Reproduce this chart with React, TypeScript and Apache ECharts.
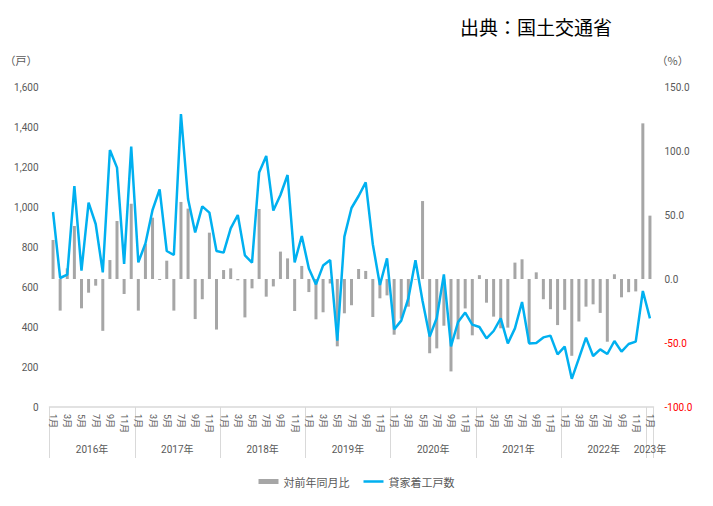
import { useEffect, useRef } from 'react';
import * as echarts from 'echarts';

// 2016年1月〜2023年1月（月次）
const years = [2016, 2017, 2018, 2019, 2020, 2021, 2022, 2023];
const months: string[] = [];
years.forEach((y) => {
  const last = y === 2023 ? 1 : 12;
  for (let m = 1; m <= last; m++) months.push(`${y}-${m}`);
});

// 貸家着工戸数（戸）
const starts = [
  975, 645, 662, 1104, 682, 1022, 915, 673, 1285, 1197, 715, 1302,
  723, 818, 985, 1088, 780, 760, 1465, 1040, 873, 1003, 972, 780,
  772, 893, 960, 758, 722, 1172, 1255, 982, 1060, 1160, 723, 855,
  693, 613, 707, 735, 332, 852, 995, 1055, 1123, 814, 610, 743,
  388, 432, 543, 734, 530, 352, 445, 663, 303, 425, 472, 412,
  400, 343, 380, 443, 318, 393, 525, 318, 320, 348, 357, 263,
  302, 141, 243, 347, 255, 288, 265, 330, 277, 315, 327, 580,
  443,
];

// 対前年同月比（%）
const yoy = [
  30.5, -24.7, 8.3, 41.4, -22.9, -10.7, -5.2, -40.5, 14.8, 45.3, -11.7, 58.8,
  -24.7, 27.3, 47.9, -0.8, 14.3, -24.7, 60.2, 55, -31.3, -15.8, 36.2, -39.5,
  7, 8.3, -1, -30, -7.3, 54.7, -13.8, -5.8, 21.4, 16.1, -25, 10.2,
  -10.2, -31.5, -26, -3.5, -52.6, -26.8, -20.5, 7.8, 6.3, -29.7, -15.1, -12.8,
  -43.5, -31, -21.6, -0.5, 60.9, -58, -54.2, -36.5, -72.2, -47.1, -23, -44,
  3, -18.5, -29.4, -38.5, -38, 12.8, 15.4, -49.8, 5.2, -15.8, -23.6, -36,
  -24.1, -60, -33.2, -21.6, -19.8, -26.5, -49, 3.7, -14.3, -10.3, -9.7, 121.6,
  49.5,
];

const leftAxis = { min: 0, max: 1600, interval: 200 };
const rightAxis = { min: -100, max: 150, interval: 50 };

const FONT = 'Roboto, "Noto Sans CJK JP", sans-serif';
const JP = '"Noto Sans CJK JP", sans-serif';
const GRAY = '#595959';
const LIGHT = '#d9d9d9';

// legend icon: thin line inside a 20x5 box (bounds kept by the two dots)
const LINE_ICON = 'path://M0,0L0.01,0M0,5L0.01,5M0,1.2H20V3.8H0Z';

const withComma = (v: number) => String(v).replace(/\B(?=(\d{3})+(?!\d))/g, ',');

export default function App() {
  const el = useRef<HTMLDivElement>(null);

  useEffect(() => {
    if (!el.current) return;
    const chart = echarts.init(el.current, undefined, { renderer: 'svg' });
    const lastIdx = months.length - 1;

    chart.setOption({
      animation: false,
      textStyle: { fontFamily: FONT },
      title: {
        text: '出典：国土交通省',
        left: 455,
        top: 12,
        textStyle: { fontFamily: JP, fontSize: 19, fontWeight: 'normal', color: '#000' },
      },
      legend: {
        top: 471,
        left: 'center',
        itemWidth: 20,
        itemHeight: 5,
        itemGap: 14,
        textStyle: { color: GRAY, fontSize: 11, fontFamily: JP },
        data: [
          { name: '対前年同月比', icon: 'rect' },
          { name: '貸家着工戸数', icon: LINE_ICON },
        ],
      },
      grid: { left: 49.5, right: 59.5, top: 87, bottom: 99 },
      xAxis: [
        {
          type: 'category',
          data: months,
          position: 'bottom',
          offset: 0,
          axisLine: { onZero: false, lineStyle: { color: LIGHT, width: 1.5 } },
          axisTick: { show: false },
          axisLabel: {
            interval: 1,
            rotate: -90,
            margin: 7,
            fontSize: 9,
            color: GRAY,
            formatter: (v: string) => `${v.split('-')[1]}月`,
          },
        },
        {
          // 年区切り
          type: 'category',
          data: months,
          position: 'bottom',
          offset: 0,
          axisLine: { show: false, onZero: false },
          axisTick: {
            show: true,
            interval: (i: number) => i % 12 === 0,
            length: 51,
            lineStyle: { color: LIGHT, width: 1 },
          },
          axisLabel: {
            interval: (i: number) => i % 12 === 5 || i === lastIdx,
            margin: 37,
            formatter: (v: string, i: number) =>
              i === lastIdx ? `{last|${v.split('-')[0]}年}` : `{mid|${v.split('-')[0]}年}`,
            rich: {
              mid: { padding: [0, 0, 0, 7], fontSize: 10, color: GRAY, fontFamily: FONT },
              last: { fontSize: 10, color: GRAY, fontFamily: FONT },
            },
          },
        },
      ],
      yAxis: [
        {
          type: 'value',
          ...leftAxis,
          name: '（戸）',
          nameLocation: 'end',
          nameGap: 22,
          nameTextStyle: { color: GRAY, fontSize: 11, fontFamily: JP, align: 'right', padding: [0, 12, 0, 0] },
          axisLine: { show: false },
          axisTick: { show: false },
          splitLine: { show: false },
          axisLabel: { color: GRAY, fontSize: 10, margin: 11, formatter: (v: number) => withComma(v) },
        },
        {
          type: 'value',
          ...rightAxis,
          position: 'right',
          name: '（%）',
          nameLocation: 'end',
          nameGap: 22,
          nameTextStyle: { color: GRAY, fontSize: 11, fontFamily: JP, align: 'left', padding: [0, 0, 0, 3] },
          axisLine: { show: false },
          axisTick: { show: false },
          splitLine: { show: false },
          axisLabel: {
            fontSize: 10,
            margin: 11,
            formatter: (v: number) => v.toFixed(1),
            color: (v: string) => (Number(v) < 0 ? '#ff0000' : GRAY),
          },
        },
      ],
      series: [
        {
          name: '対前年同月比',
          type: 'bar',
          xAxisIndex: 0,
          yAxisIndex: 1,
          data: yoy,
          barWidth: 3,
          itemStyle: { color: '#a6a6a6' },
        },
        {
          name: '貸家着工戸数',
          type: 'line',
          xAxisIndex: 0,
          yAxisIndex: 0,
          data: starts,
          symbol: 'none',
          lineStyle: { color: '#00b0f0', width: 2.5 },
          itemStyle: { color: '#00b0f0' },
        },
      ],
    });

    return () => chart.dispose();
  }, []);

  return <div ref={el} style={{ position: 'fixed', left: 0, top: 0, width: 713, height: 506, background: '#fff' }} />;
}
